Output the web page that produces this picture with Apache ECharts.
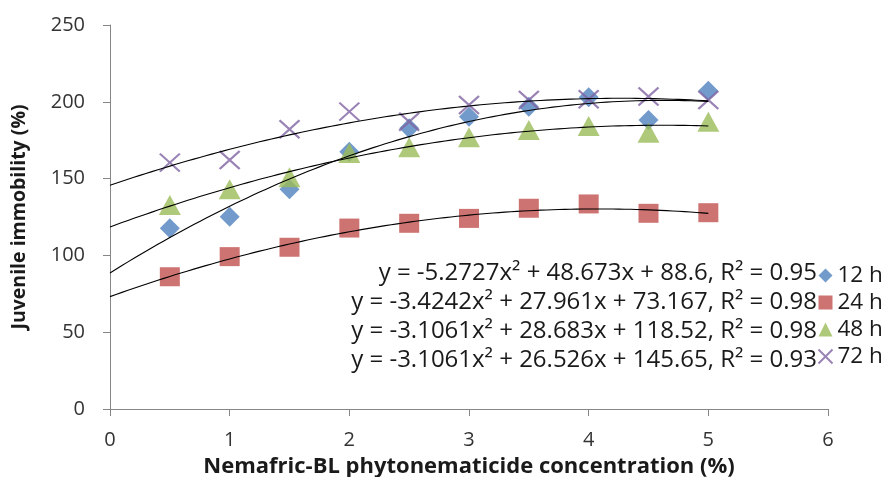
<!DOCTYPE html>
<html>
<head>
<meta charset="utf-8">
<script src="https://cdn.jsdelivr.net/npm/echarts@6/dist/echarts.min.js"></script>
<style>html,body{margin:0;padding:0;background:#fff}#c{width:885px;height:477px}</style>
</head>
<body>
<div id="c"></div>
<script>
var concentrations = [0.5, 1, 1.5, 2, 2.5, 3, 3.5, 4, 4.5, 5];
var seriesNames = ['12 h', '24 h', '48 h', '72 h'];
var h12 = [117.6, 125.2, 143.0, 167.5, 182.7, 190.3, 196.8, 202.9, 188.2, 207.2];
var h24 = [86.1, 99.2, 105.3, 117.8, 120.9, 124.1, 130.7, 133.5, 127.4, 127.8];
var h48 = [132.8, 143.0, 150.8, 166.7, 170.4, 176.9, 181.6, 184.2, 179.9, 187.0];
var h72 = [160.4, 162.1, 182.1, 193.6, 187.0, 197.9, 201.2, 201.6, 203.4, 201.2];
// trendline coefficients as printed on the chart: [a, b, c] for a*x^2 + b*x + c
var coef12 = [-5.2727, 48.673, 88.6];
var coef24 = [-3.4242, 27.961, 73.167];
var coef48 = [-3.1061, 28.683, 118.52];
var coef72 = [-3.1061, 26.526, 145.65];
var equations = [
  'y = -5.2727x\u00b2 + 48.673x + 88.6, R\u00b2 = 0.95',
  'y = -3.4242x\u00b2 + 27.961x + 73.167, R\u00b2 = 0.98',
  'y = -3.1061x\u00b2 + 28.683x + 118.52, R\u00b2 = 0.98',
  'y = -3.1061x\u00b2 + 26.526x + 145.65, R\u00b2 = 0.93'
];
var xTicks = [0, 1, 2, 3, 4, 5, 6];
var yTicks = [0, 50, 100, 150, 200, 250];

function pts(vals) { return concentrations.map(function (x, i) { return [x, vals[i]]; }); }
function trend(c) {
  var out = [];
  for (var k = 0; k <= 100; k++) { var x = 5 * k / 100; out.push([x, c[0] * x * x + c[1] * x + c[2]]); }
  return out;
}

var colors = ['#4F81BD', '#C0504D', '#9BBB59', '#8064A2'];
var xPath = 'path://M0,0L10,10M10,0L0,10';
var font = '"Open Sans", Lato, "Liberation Sans", sans-serif';

var chart = echarts.init(document.getElementById('c'), null, {renderer: 'canvas'});
var trendStyle = {color: '#000', width: 1.1};
var option = {
  animation: false,
  grid: {left: 110, right: 57, top: 25, bottom: 68, containLabel: false, outerBoundsMode: 'none'},
  legend: {
    orient: 'vertical', left: 811, top: 259, itemWidth: 14, itemHeight: 14, itemGap: 4, itemTextGap: 5,
    data: seriesNames,
    textStyle: {fontSize: 22.5, lineHeight: 14, color: '#1a1a1a', fontFamily: font}
  },
  xAxis: {
    type: 'value', min: 0, max: 6, interval: 1,
    name: 'Nemafric-BL phytonematicide concentration (%)', nameLocation: 'middle', nameGap: 47,
    nameTextStyle: {fontSize: 22, fontWeight: 'bold', color: '#1a1a1a', fontFamily: font},
    axisLine: {lineStyle: {color: '#868686'}},
    axisTick: {show: true, length: 7, lineStyle: {color: '#868686'}},
    axisLabel: {fontSize: 20, color: '#333', margin: 21, fontFamily: font},
    splitLine: {show: false}
  },
  yAxis: {
    type: 'value', min: 0, max: 250, interval: 50,
    name: 'Juvenile immobility (%)', nameLocation: 'middle', nameGap: 81, nameRotate: 90,
    nameTextStyle: {fontSize: 19.5, fontWeight: 'bold', color: '#1a1a1a', fontFamily: font},
    axisLine: {show: true, lineStyle: {color: '#868686'}},
    axisTick: {show: true, length: 7, lineStyle: {color: '#868686'}},
    axisLabel: {fontSize: 20, color: '#333', margin: 25, fontFamily: font},
    splitLine: {show: false}
  },
  series: [
    {name: '12 h', type: 'scatter', symbol: 'diamond', symbolSize: [20, 20], data: pts(h12), itemStyle: {color: colors[0]}, z: 3},
    {name: '24 h', type: 'scatter', symbol: 'rect', symbolSize: [20, 19], data: pts(h24), itemStyle: {color: colors[1]}, z: 3},
    {name: '48 h', type: 'scatter', symbol: 'triangle', symbolSize: [22, 20], data: pts(h48), itemStyle: {color: colors[2]}, z: 3},
    {name: '72 h', type: 'scatter', symbol: xPath, symbolSize: [20, 18], data: pts(h72),
      itemStyle: {color: 'none', borderColor: colors[3], borderWidth: 2.2}, z: 3},
    {type: 'line', data: trend(coef12), showSymbol: false, symbol: 'none', lineStyle: trendStyle, z: 4, silent: true},
    {type: 'line', data: trend(coef24), showSymbol: false, symbol: 'none', lineStyle: trendStyle, z: 4, silent: true},
    {type: 'line', data: trend(coef48), showSymbol: false, symbol: 'none', lineStyle: trendStyle, z: 4, silent: true},
    {type: 'line', data: trend(coef72), showSymbol: false, symbol: 'none', lineStyle: trendStyle, z: 4, silent: true}
  ],
  graphic: equations.map(function (t, i) {
    return {type: 'text', x: 817, y: 273 + i * 29, z: 10,
      style: {text: t, fontSize: 24, fill: '#1a1a1a', fontFamily: font, align: 'right', verticalAlign: 'middle'}};
  })
};
chart.setOption(option);
</script>
</body>
</html>
